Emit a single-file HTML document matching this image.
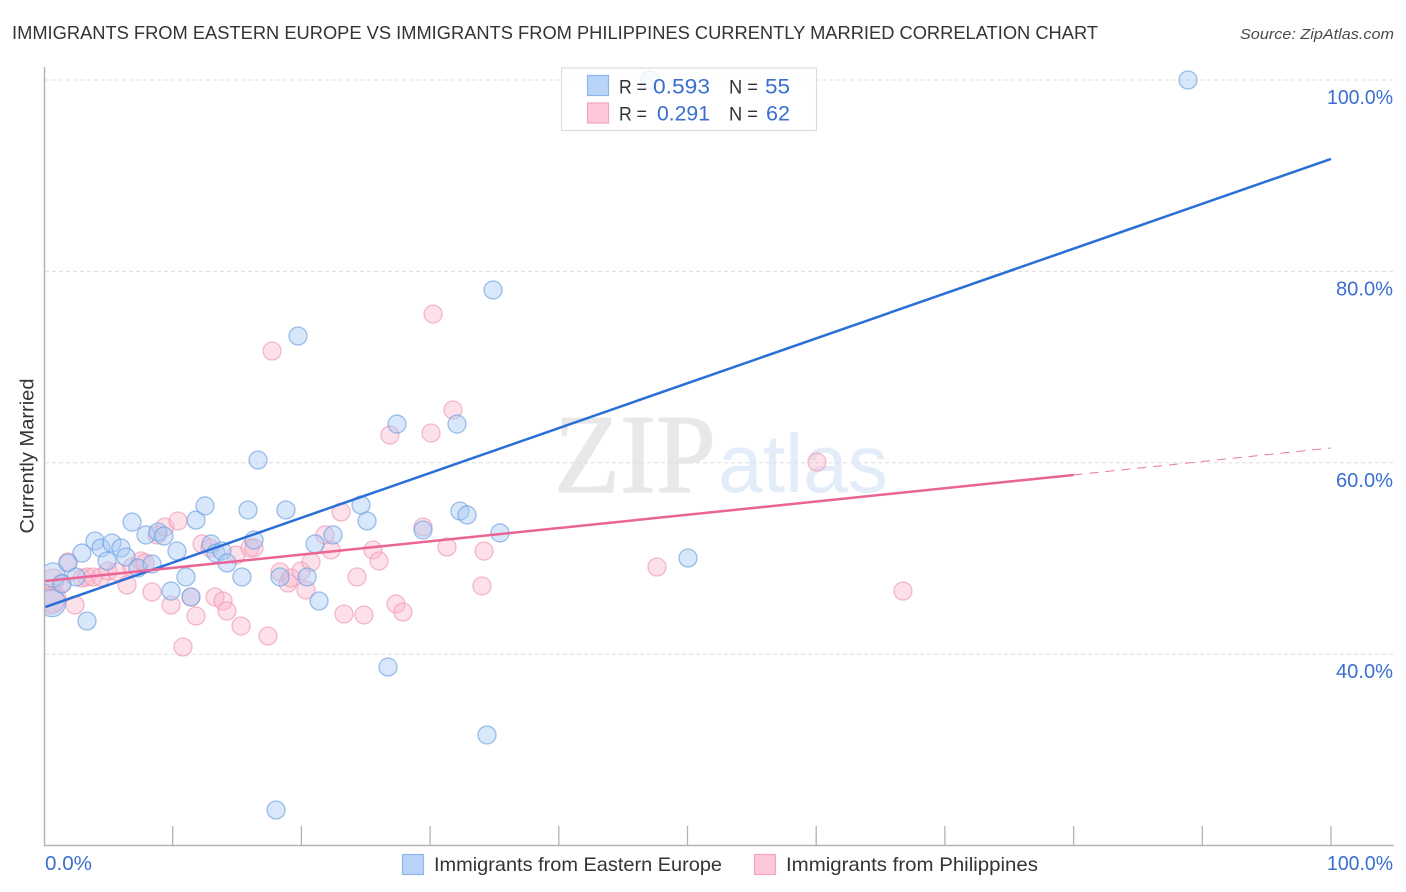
<!DOCTYPE html>
<html lang="en">
<head>
<meta charset="utf-8">
<title>Immigrants from Eastern Europe vs Immigrants from Philippines Currently Married Correlation Chart</title>
<style>
html,body{margin:0;padding:0;background:#fff;width:1406px;height:892px;overflow:hidden}
svg{display:block;font-family:"Liberation Sans",sans-serif}
</style>
</head>
<body>
<svg id="chart" width="1406" height="892" viewBox="0 0 1406 892" xmlns="http://www.w3.org/2000/svg">
  <rect x="0" y="0" width="1406" height="892" fill="#fff"/>
  <text x="12" y="39" font-size="18.6" fill="#333338" textLength="1086" lengthAdjust="spacingAndGlyphs">IMMIGRANTS FROM EASTERN EUROPE VS IMMIGRANTS FROM PHILIPPINES CURRENTLY MARRIED CORRELATION CHART</text>
  <text x="1394" y="39" font-size="15" font-style="italic" fill="#4a4a4a" text-anchor="end" textLength="154" lengthAdjust="spacingAndGlyphs">Source: ZipAtlas.com</text>
  <g>
    <text x="554" y="492" font-family="'Liberation Serif',serif" font-size="112" fill="#e8e8e9" stroke="#e8e8e9" stroke-width="1.2" textLength="162" lengthAdjust="spacingAndGlyphs">ZIP</text>
    <text x="718" y="492" font-size="83" fill="#e3edf9" textLength="170" lengthAdjust="spacingAndGlyphs">atlas</text>
  </g>
  <g id="grid"></g>
  <defs>
    <clipPath id="plot-clip"><rect x="45" y="60" width="1349" height="785"/></clipPath>
  </defs>
  <g id="points-pink" clip-path="url(#plot-clip)"></g>
  <g id="points-blue" clip-path="url(#plot-clip)"></g>
  <g id="trends" clip-path="url(#plot-clip)"></g>
  <rect x="0" y="60" width="44.5" height="785" fill="#fff"/>
  <g id="axes"></g>
  <text transform="translate(33.5,456) rotate(-90)" font-size="19" fill="#333338" text-anchor="middle" textLength="155" lengthAdjust="spacingAndGlyphs">Currently Married</text>
  <g id="ticklabels"></g>
  <g>
    <rect x="561.5" y="68" width="255" height="62.5" fill="#fff" fill-opacity="0.8" stroke="#dcdcdc" stroke-width="1.2"/>
    <rect x="587.5" y="75.5" width="21" height="20" fill="#b8d4f8" stroke="#8fb6e8" stroke-width="1.2"/>
    <rect x="587.5" y="103" width="21" height="20" fill="#fdc8d8" stroke="#f2a6bf" stroke-width="1.2"/>
    <text x="619" y="93.5" font-size="19.5" fill="#33333a" textLength="28" lengthAdjust="spacingAndGlyphs">R =</text>
    <text x="653" y="93.5" font-size="21" fill="#3a6fd0" textLength="57" lengthAdjust="spacingAndGlyphs">0.593</text>
    <text x="729" y="93.5" font-size="19.5" fill="#33333a" textLength="29" lengthAdjust="spacingAndGlyphs">N =</text>
    <text x="765" y="93.5" font-size="21" fill="#3a6fd0" textLength="25" lengthAdjust="spacingAndGlyphs">55</text>
    <text x="619" y="120.5" font-size="19.5" fill="#33333a" textLength="28" lengthAdjust="spacingAndGlyphs">R =</text>
    <text x="657" y="120.5" font-size="21" fill="#3a6fd0" textLength="53" lengthAdjust="spacingAndGlyphs">0.291</text>
    <text x="729" y="120.5" font-size="19.5" fill="#33333a" textLength="29" lengthAdjust="spacingAndGlyphs">N =</text>
    <text x="766" y="120.5" font-size="21" fill="#3a6fd0" textLength="24" lengthAdjust="spacingAndGlyphs">62</text>
  </g>
  <g>
    <g>
      <rect x="402.5" y="854.5" width="21" height="20" fill="#b8d4f8" stroke="#8fb6e8" stroke-width="1.2"/>
      <text x="434" y="871" font-size="19.5" fill="#333338" textLength="288" lengthAdjust="spacingAndGlyphs">Immigrants from Eastern Europe</text>
    </g>
    <g>
      <rect x="754.5" y="854.5" width="21" height="20" fill="#fdc8d8" stroke="#f2a6bf" stroke-width="1.2"/>
      <text x="786" y="871" font-size="19.5" fill="#333338" textLength="252" lengthAdjust="spacingAndGlyphs">Immigrants from Philippines</text>
    </g>
  </g>
</svg>
<script>
const yTickValues = [100, 80, 60, 40];
const yTickLabels = ["100.0%", "80.0%", "60.0%", "40.0%"];
const xTickValues = [10, 20, 30, 40, 50, 60, 70, 80, 90, 100];
const xEndLabels = ["0.0%", "100.0%"];

const blueX = [0.70,0.62,1.40,1.86,2.49,2.95,3.34,3.96,4.43,4.90,5.28,5.98,6.37,6.84,7.30,7.93,8.39,8.86,9.32,9.87,10.33,11.03,11.42,11.81,12.51,12.98,13.36,13.83,14.22,15.38,15.85,16.32,16.63,18.03,18.34,18.80,19.74,20.44,21.06,21.37,22.46,24.63,25.10,26.73,27.43,29.45,32.09,32.32,32.87,34.42,34.89,35.43,47.09,50.04,88.89];
const blueY = [48.28,45.35,47.34,49.53,48.07,50.57,43.47,51.83,51.10,49.74,51.62,51.10,50.16,53.81,49.01,52.46,49.42,52.77,52.35,46.60,50.78,48.07,45.98,54.02,55.49,51.52,50.57,50.78,49.53,48.07,55.07,51.93,60.29,23.72,48.07,55.07,73.25,48.07,51.52,45.56,52.46,55.59,53.92,38.66,64.05,52.98,64.05,54.96,54.55,31.56,78.06,52.67,100,50.05,100];
const blueWeight = [1.8,2.3,1,1,1,1,1,1,1,1,1,1,1,1,1,1,1,1,1,1,1,1,1,1,1,1,1,1,1,1,1,1,1,1,1,1,1,1,1,1,1,1,1,1,1,1,1,1,1,1,1,1,1,1,1];

const pinkX = [0.62,0.70,1.40,1.86,2.41,2.95,3.34,3.81,4.43,4.97,5.67,6.45,6.84,7.54,7.85,8.39,8.78,9.40,9.87,10.41,10.80,11.42,11.81,12.28,12.90,13.29,13.91,14.22,14.92,15.31,16.01,16.32,17.40,17.72,18.34,18.96,19.19,19.97,20.36,20.75,21.83,22.30,23.08,23.31,24.32,24.86,25.56,26.03,27.35,27.89,26.88,29.45,30.23,30.07,31.31,31.78,34.03,34.19,47.63,60.06,66.74,0.55];
const pinkY = [45.87,47.75,47.44,49.63,45.14,47.96,48.07,48.07,48.07,48.69,48.59,47.23,49.11,49.74,49.53,46.50,52.46,53.29,45.14,53.92,40.75,45.98,43.99,51.52,51.10,45.98,45.56,44.51,50.36,42.95,51.10,51.10,41.90,71.68,48.59,47.44,47.96,48.69,46.71,49.63,52.46,50.89,54.86,44.20,48.07,44.10,50.89,49.74,45.25,44.41,62.90,53.29,75.55,63.11,51.20,65.52,47.13,50.78,49.11,60.08,46.60,45.60];
const pinkWeight = [2.4,1.5,1,1,1,1,1,1,1,1,1,1,1,1,1,1,1,1,1,1,1,1,1,1,1,1,1,1,1,1,1,1,1,1,1,1,1,1,1,1,1,1,1,1,1,1,1,1,1,1,1,1,1,1,1,1,1,1,1,1,1,2.2];

const blueTrendX = [0.1, 100];
const blueTrendY = [44.93, 91.75];
const pinkTrendX = [0.1, 80];
const pinkTrendY = [47.65, 58.73];
const pinkDashX = [80, 100];
const pinkDashY = [58.73, 61.55];

const SVG_NS = "http://www.w3.org/2000/svg";
function xScale(v) { return 44 + v * 12.87; }
function yScale(v) { return 80 + (100 - v) * 9.57; }
function rScale(w) { return 9 * Math.sqrt(w); }
function make(tag, attrs, parent) {
  const el = document.createElementNS(SVG_NS, tag);
  for (const k in attrs) el.setAttribute(k, attrs[k]);
  parent.appendChild(el);
  return el;
}
function labelWidth(s) { return s.length * 11.4 - (s.length === 6 ? 2.4 : 0); }

const grid = document.getElementById("grid");
const axes = document.getElementById("axes");
const labels = document.getElementById("ticklabels");

yTickValues.forEach(function (v, i) {
  const line = make("line", {x1: 45, x2: 1394, y1: yScale(v), y2: yScale(v), stroke: "#dddddd", "stroke-width": 1, "stroke-dasharray": "4 3"}, grid);
  
  
  const t = make("text", {x: 1393, y: yScale(v) + 24, "font-size": 20, fill: "#3a6fd0", "text-anchor": "end", textLength: labelWidth(yTickLabels[i]), lengthAdjust: "spacingAndGlyphs"}, labels);
  
  
  t.textContent = yTickLabels[i];
});

const yAxis = make("line", {x1: 44.5, x2: 44.5, y1: 67, y2: 846, stroke: "#b3b3b3", "stroke-width": 1.5}, axes);


const xAxis = make("line", {x1: 44, x2: 1394, y1: 845.5, y2: 845.5, stroke: "#b3b3b3", "stroke-width": 1.5}, axes);



xTickValues.forEach(function (v) {
  const tick = make("line", {x1: xScale(v), x2: xScale(v), y1: 826, y2: 845, stroke: "#b3b3b3", "stroke-width": 1.3}, axes);
  
  
});

const x0Label = make("text", {x: 45, y: 870, "font-size": 20, fill: "#3a6fd0", textLength: 47, lengthAdjust: "spacingAndGlyphs"}, labels);


x0Label.textContent = xEndLabels[0];
const x1Label = make("text", {x: 1393, y: 870, "font-size": 20, fill: "#3a6fd0", "text-anchor": "end", textLength: 66, lengthAdjust: "spacingAndGlyphs"}, labels);


x1Label.textContent = xEndLabels[1];

const pinkGroup = document.getElementById("points-pink");
pinkX.forEach(function (v, i) {
  const c = make("circle", {cx: xScale(v), cy: yScale(pinkY[i]), r: rScale(pinkWeight[i]), fill: "#fbb8ce", "fill-opacity": 0.42, stroke: "#ec8fae", "stroke-opacity": 0.6, "stroke-width": 1.3}, pinkGroup);
  
  
});

const blueGroup = document.getElementById("points-blue");
blueX.forEach(function (v, i) {
  const c = make("circle", {cx: xScale(v), cy: yScale(blueY[i]), r: rScale(blueWeight[i]), fill: "#a9c9f4", "fill-opacity": 0.45, stroke: "#6b9ee0", "stroke-opacity": 0.65, "stroke-width": 1.3}, blueGroup);
  
  
});

const trends = document.getElementById("trends");
const blueLine = make("line", {x1: xScale(blueTrendX[0]), y1: yScale(blueTrendY[0]), x2: xScale(blueTrendX[1]), y2: yScale(blueTrendY[1]), stroke: "#2a6fd6", "stroke-width": 2.5}, trends);


const pinkLine = make("line", {x1: xScale(pinkTrendX[0]), y1: yScale(pinkTrendY[0]), x2: xScale(pinkTrendX[1]), y2: yScale(pinkTrendY[1]), stroke: "#ea6595", "stroke-width": 2.5}, trends);


const pinkDash = make("line", {x1: xScale(pinkDashX[0]), y1: yScale(pinkDashY[0]), x2: xScale(pinkDashX[1]), y2: yScale(pinkDashY[1]), stroke: "#e27ba0", "stroke-width": 1, "stroke-dasharray": "9 7"}, trends);


</script>
</body>
</html>
